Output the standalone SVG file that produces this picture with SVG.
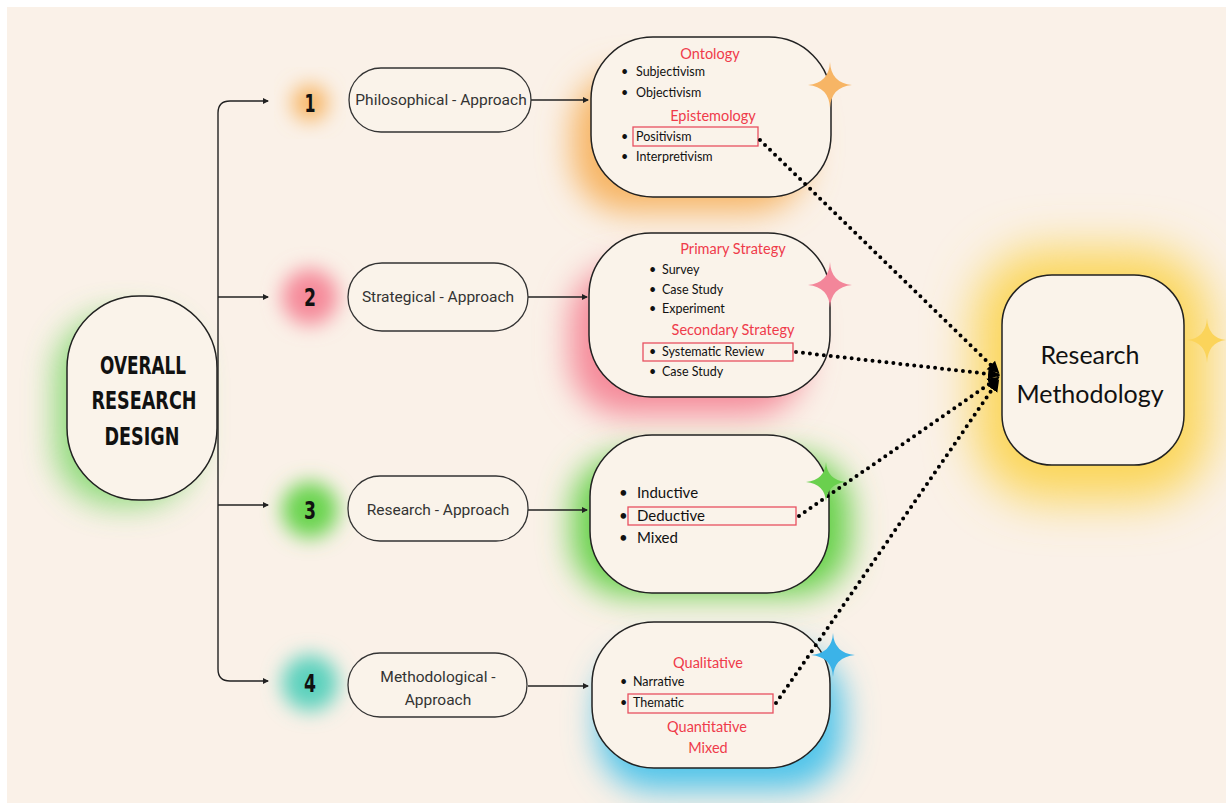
<svg xmlns="http://www.w3.org/2000/svg" width="1226" height="803" viewBox="0 0 1226 803">
<defs>
<style>
.node{fill:#faf3ea;stroke:#222;stroke-width:1.5}
.pill{fill:#faf3ea;stroke:#333;stroke-width:1.3}
.lbl{font-family:Roboto,"Liberation Sans",sans-serif;font-size:15.5px;fill:#333}
.it{font-family:"Lato","Noto Sans",sans-serif;font-size:12.5px;fill:#111}
.it3{font-family:"Lato","Noto Sans",sans-serif;font-size:15px;fill:#111}
.hd{font-family:"Lato","Noto Sans",sans-serif;font-size:14.5px;fill:#ef3b4a;text-anchor:middle}
.num{font-family:"DejaVu Sans","Liberation Sans",sans-serif;font-weight:bold;font-size:24px;fill:#111;text-anchor:middle}
.big{font-family:"DejaVu Sans","Liberation Sans",sans-serif;font-weight:bold;font-size:25px;fill:#111;text-anchor:middle}
.rm{font-family:"Lato","Noto Sans",sans-serif;font-size:25px;fill:#111;text-anchor:middle}
.hl{fill:none;stroke:#e85060;stroke-width:1.3}
.line{fill:none;stroke:#222;stroke-width:1.4}
.dot{fill:none;stroke:#000;stroke-width:4;stroke-linecap:round;stroke-dasharray:0 7}
</style>
<filter id="blur" x="-50%" y="-50%" width="200%" height="200%"><feGaussianBlur stdDeviation="16"/></filter>
<filter id="blurL" x="-50%" y="-50%" width="200%" height="200%"><feGaussianBlur stdDeviation="24"/></filter>
<filter id="blurS" x="-50%" y="-50%" width="200%" height="200%"><feGaussianBlur stdDeviation="10"/></filter>
<marker id="ah" markerWidth="6" markerHeight="6" refX="5" refY="3" orient="auto" markerUnits="userSpaceOnUse"><path d="M0,0 L6,3 L0,6 Z" fill="#222"/></marker>
<marker id="ahb" markerWidth="14" markerHeight="14" refX="10" refY="7" orient="auto" markerUnits="userSpaceOnUse"><path d="M0,1 L12,7 L0,13 Z" fill="#000"/></marker>
</defs>
<rect width="1226" height="803" fill="#ffffff"/>
<rect x="7" y="7" width="1219" height="796" fill="#faf1e8"/>

<g id="glows">
<rect x="55" y="315" width="140" height="190" rx="60" fill="#7ad766" filter="url(#blur)" opacity="0.85"/>
<circle cx="310" cy="103" r="18" fill="#f7b565" filter="url(#blurS)"/>
<circle cx="310" cy="297" r="28" fill="#f58a9a" filter="url(#blurS)"/>
<circle cx="310" cy="510" r="28" fill="#6bd44f" filter="url(#blurS)"/>
<circle cx="310" cy="683" r="28" fill="#5cd1bd" filter="url(#blurS)"/>
<rect x="572" y="72" width="235" height="140" rx="55" fill="#f7b565" filter="url(#blur)"/>
<rect x="570" y="265" width="235" height="150" rx="55" fill="#f58a9a" filter="url(#blur)"/>
<rect x="572" y="455" width="278" height="140" rx="55" fill="#66d14a" filter="url(#blur)"/>
<rect x="598" y="650" width="245" height="140" rx="55" fill="#4fc4ea" filter="url(#blur)"/>
<rect x="975" y="250" width="235" height="250" rx="70" fill="#fbd659" filter="url(#blurL)"/>
</g>

<g id="connectors">
<path class="line" d="M218,113 Q218,101 230,101 H268" marker-end="url(#ah)"/>
<path class="line" d="M218,113 V669 Q218,681 230,681 H268" marker-end="url(#ah)"/>
<path class="line" d="M218,297 H268" marker-end="url(#ah)"/>
<path class="line" d="M218,505 H268" marker-end="url(#ah)"/>
<path class="line" d="M531,100 H588" marker-end="url(#ah)"/>
<path class="line" d="M528,297 H587" marker-end="url(#ah)"/>
<path class="line" d="M528,510 H587" marker-end="url(#ah)"/>
<path class="line" d="M528,686 H588" marker-end="url(#ah)"/>
</g>

<g id="node-overall">
<rect class="node" x="67" y="296" width="150" height="204" rx="72"/>
<text class="big" x="143" y="374" textLength="86" lengthAdjust="spacingAndGlyphs">OVERALL</text>
<text class="big" x="144" y="409" textLength="105" lengthAdjust="spacingAndGlyphs">RESEARCH</text>
<text class="big" x="142" y="445" textLength="75" lengthAdjust="spacingAndGlyphs">DESIGN</text>
</g>

<g id="num1"><text class="num" x="310" y="112" textLength="11" lengthAdjust="spacingAndGlyphs">1</text></g>
<g id="num2"><text class="num" x="310" y="306" textLength="12" lengthAdjust="spacingAndGlyphs">2</text></g>
<g id="num3"><text class="num" x="310" y="519" textLength="12" lengthAdjust="spacingAndGlyphs">3</text></g>
<g id="num4"><text class="num" x="310" y="692" textLength="12" lengthAdjust="spacingAndGlyphs">4</text></g>

<g id="approach1">
<rect class="pill" x="349" y="68" width="182" height="64" rx="32"/>
<text class="lbl" x="441" y="105" text-anchor="middle">Philosophical - Approach</text>
</g>
<g id="approach2">
<rect class="pill" x="348" y="263" width="180" height="68" rx="34"/>
<text class="lbl" x="438" y="302" text-anchor="middle">Strategical - Approach</text>
</g>
<g id="approach3">
<rect class="pill" x="348" y="476" width="180" height="65" rx="32"/>
<text class="lbl" x="438" y="515" text-anchor="middle">Research - Approach</text>
</g>
<g id="approach4">
<rect class="pill" x="348" y="653" width="179" height="64" rx="32"/>
<text class="lbl" x="438" y="682" text-anchor="middle">Methodological -</text>
<text class="lbl" x="438" y="705" text-anchor="middle">Approach</text>
</g>

<g id="box1">
<rect class="node" x="591" y="37" width="240" height="160" rx="62"/>
<text class="hd" x="710" y="59">Ontology</text>
<text class="it" x="621" y="76">•</text><text class="it" x="636" y="76">Subjectivism</text>
<text class="it" x="621" y="97">•</text><text class="it" x="636" y="97">Objectivism</text>
<text class="hd" x="713" y="121">Epistemology</text>
<rect class="hl" x="633" y="127" width="125" height="19"/>
<text class="it" x="621" y="141">•</text><text class="it" x="636" y="141">Positivism</text>
<text class="it" x="621" y="161">•</text><text class="it" x="636" y="161">Interpretivism</text>
</g>

<g id="box2">
<rect class="node" x="589" y="233" width="241" height="164" rx="62"/>
<text class="hd" x="733" y="254">Primary Strategy</text>
<text class="it" x="649" y="274">•</text><text class="it" x="662" y="274">Survey</text>
<text class="it" x="649" y="294">•</text><text class="it" x="662" y="294">Case Study</text>
<text class="it" x="649" y="313">•</text><text class="it" x="662" y="313">Experiment</text>
<text class="hd" x="733" y="335">Secondary Strategy</text>
<rect class="hl" x="643" y="343" width="150" height="18"/>
<text class="it" x="649" y="356">•</text><text class="it" x="662" y="356">Systematic Review</text>
<text class="it" x="649" y="376">•</text><text class="it" x="662" y="376">Case Study</text>
</g>

<g id="box3">
<rect class="node" x="590" y="435" width="239" height="158" rx="62"/>
<text class="it3" x="619" y="498">•</text><text class="it3" x="637" y="498">Inductive</text>
<rect class="hl" x="628" y="507" width="168" height="18"/>
<text class="it3" x="619" y="521">•</text><text class="it3" x="637" y="521">Deductive</text>
<text class="it3" x="619" y="543">•</text><text class="it3" x="637" y="543">Mixed</text>
</g>

<g id="box4">
<rect class="node" x="592" y="622" width="238" height="146" rx="62"/>
<text class="hd" x="708" y="668">Qualitative</text>
<text class="it" x="620" y="686">•</text><text class="it" x="633" y="686">Narrative</text>
<rect class="hl" x="628" y="694" width="145" height="19"/>
<text class="it" x="620" y="707">•</text><text class="it" x="633" y="707">Thematic</text>
<text class="hd" x="707" y="732">Quantitative</text>
<text class="hd" x="708" y="753">Mixed</text>
</g>

<g id="node-rm">
<rect class="node" x="1002" y="275" width="182" height="190" rx="50"/>
<text class="rm" x="1090" y="364">Research</text>
<text class="rm" x="1090" y="403">Methodology</text>
</g>

<g id="dotted-connectors">
<path class="dot" d="M760,140 L998,372" marker-end="url(#ahb)"/>
<path class="dot" d="M796,352 L998,375" marker-end="url(#ahb)"/>
<path class="dot" d="M799,516 L998,378" marker-end="url(#ahb)"/>
<path class="dot" d="M776,703 L998,381" marker-end="url(#ahb)"/>
</g>

<g id="stars">
<path d="M830,62 Q831,83 852,85 Q831,87 830,108 Q829,87 808,85 Q829,83 830,62 Z" fill="#f7b565"/>
<path d="M830,262 Q831,283 852,285 Q831,287 830,308 Q829,287 808,285 Q829,283 830,262 Z" fill="#f3869a"/>
<path d="M826,462 Q827,480 846,482 Q827,484 826,502 Q825,484 806,482 Q825,480 826,462 Z" fill="#6ad04e"/>
<path d="M833,633 Q834,653 855,655 Q834,657 833,677 Q832,657 811,655 Q832,653 833,633 Z" fill="#3bb3e8"/>
<path d="M1207,318 Q1208,338 1226,340 Q1208,342 1207,363 Q1206,342 1187,340 Q1206,338 1207,318 Z" fill="#fbd45a"/>
</g>
</svg>
